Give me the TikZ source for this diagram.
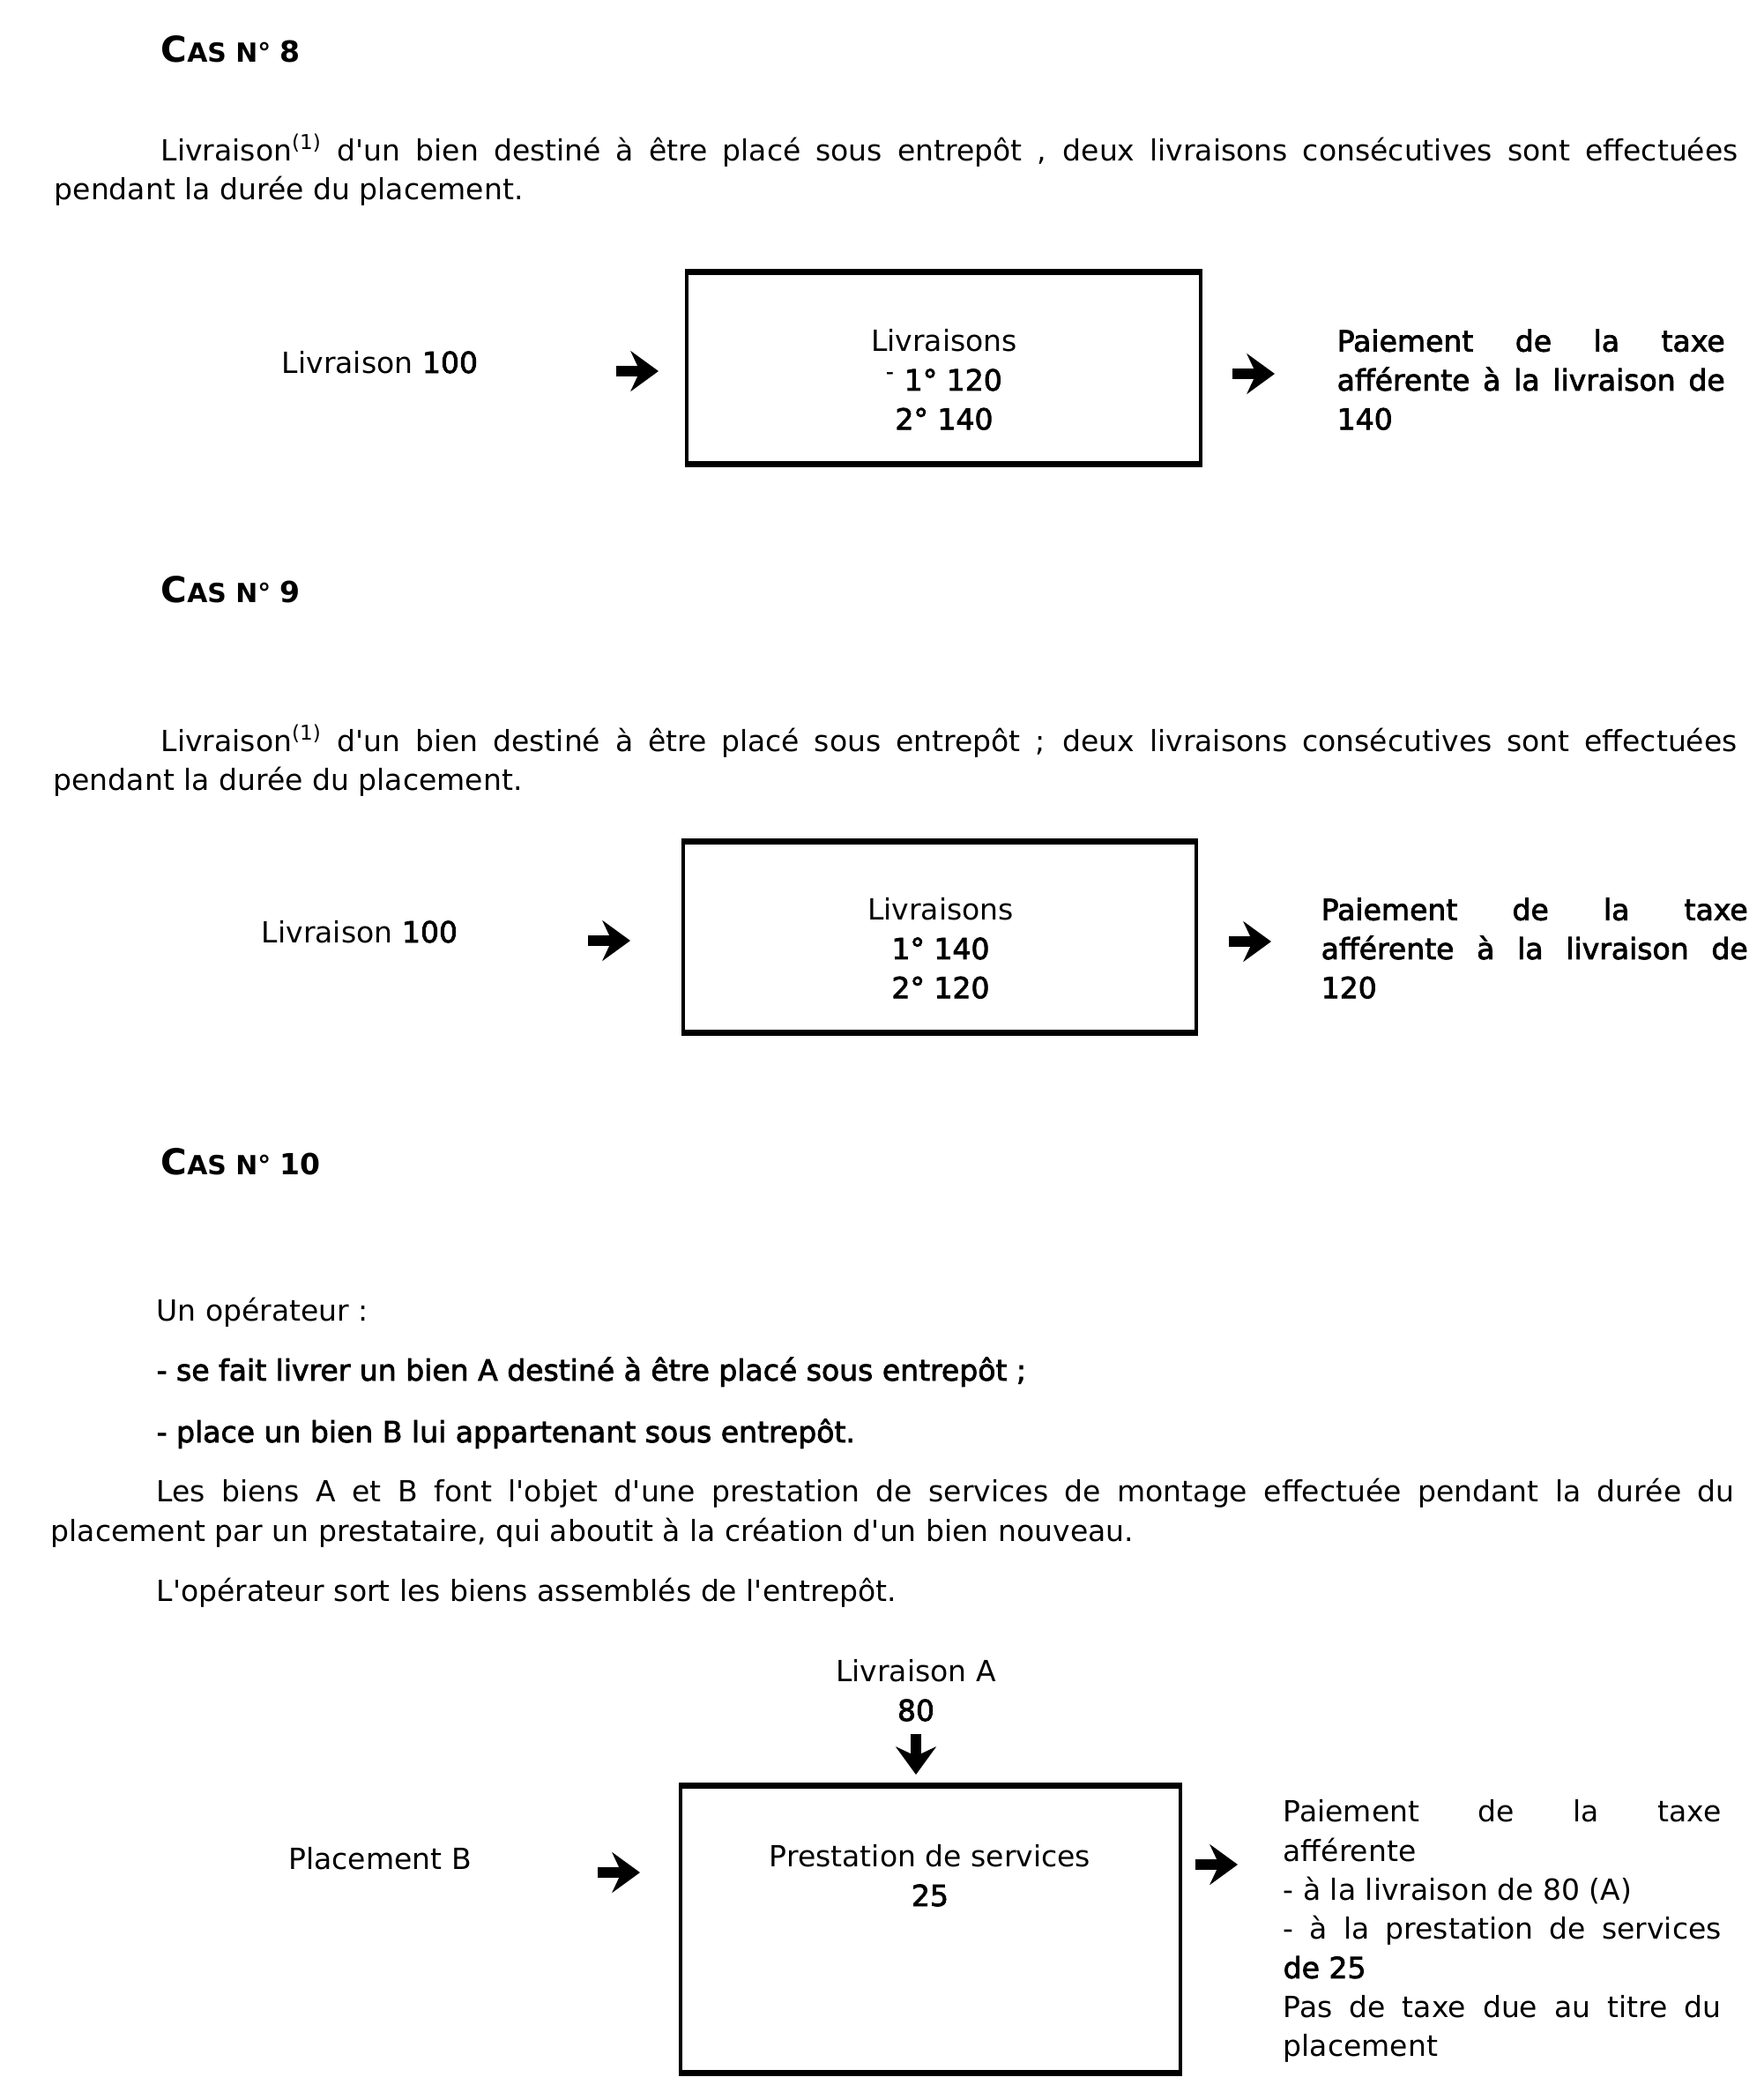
\documentclass[tikz,border=0pt]{standalone}
\usepackage{fontspec}
\setmainfont{DejaVu Sans}[Ligatures=TeXOff,BoldFont={DejaVu Sans},BoldFeatures={FakeBold=2.4}]
\newfontfamily\titrefont{DejaVu Sans}
\usetikzlibrary{arrows.meta}
\newcommand{\corps}{\fontsize{9.4pt}{12.6pt}\selectfont}
\newcommand{\cas}[1]{{\titrefont\bfseries\fontsize{11.5pt}{12pt}\selectfont C\fontsize{8.5pt}{10pt}\selectfont AS N° \fontsize{9.4pt}{12pt}\selectfont #1}}
\hyphenpenalty=10000
\exhyphenpenalty=10000
\hbadness=10000

\begin{document}
\begin{tikzpicture}[every node/.style={font=\corps,inner sep=0pt}]
  \tikzstyle{titre}=[anchor=west]
  \tikzstyle{para}=[anchor=north west,text width=19.1cm,align=justify]
  \tikzstyle{ligne}=[anchor=base west]
  \tikzstyle{etiquette}=[anchor=base]
  \tikzstyle{caisse}=[draw,line width=1.1pt]
  \tikzstyle{bord}=[line width=1.9pt]
  \tikzstyle{contenu}=[anchor=north,align=center]
  \tikzstyle{legende}=[anchor=north west,align=justify]
  \tikzstyle{fleche}=[line width=3.2pt,-{Stealth[length=9pt,width=13pt,inset=3pt]}]
  \useasboundingbox (0,0) rectangle (20,-23.73);

  % cas 8
  \node[titre] (cas8) at (1.82,-0.56) {\cas{8}};
  \node[para] (texte8) at (0.61,-1.51) {\hspace*{1.21cm}\strut Livraison\textsuperscript{(1)} d'un bien destiné à être placé sous entrepôt , deux livraisons consécutives sont effectuées\linebreak pendant la durée du placement.};
  \node[etiquette] (gauche8) at (4.31,-4.23) {Livraison \textbf{100}};
  \node[caisse,minimum width=5.83cm,minimum height=2.15cm] (boite8) at (10.705,-4.175) {};
  \node[contenu] (liv8) at (10.71,-3.67) {\strut Livraisons\\ \textbf{\textsuperscript{-} 1° 120}\\ \textbf{2° 140}};
  \node[legende,text width=4.4cm] (droite8) at (15.16,-3.67) {\strut\textbf{Paiement de la taxe\linebreak afférente à la livraison de\linebreak 140}};
  \coordinate (f8a) at (6.99,-4.21);
  \coordinate (f8b) at (7.47,-4.21);
  \coordinate (f8c) at (13.98,-4.24);
  \coordinate (f8d) at (14.46,-4.24);
  \draw[fleche] (f8a) -- (f8b);
  \draw[fleche] (f8c) -- (f8d);

  % cas 9
  \node[titre] (cas9) at (1.82,-6.69) {\cas{9}};
  \node[para] (texte9) at (0.60,-8.21) {\hspace*{1.22cm}\strut Livraison\textsuperscript{(1)} d'un bien destiné à être placé sous entrepôt ; deux livraisons consécutives sont effectuées\linebreak pendant la durée du placement.};
  \node[etiquette] (gauche9) at (4.08,-10.69) {Livraison \textbf{100}};
  \node[caisse,minimum width=5.82cm,minimum height=2.14cm] (boite9) at (10.66,-10.63) {};
  \node[contenu] (liv9) at (10.67,-10.12) {\strut Livraisons\\ \textbf{1° 140}\\ \textbf{2° 120}};
  \node[legende,text width=4.84cm] (droite9) at (14.98,-10.12) {\strut\textbf{Paiement de la taxe\linebreak afférente à la livraison de\linebreak 120}};
  \coordinate (f9a) at (6.67,-10.67);
  \coordinate (f9b) at (7.15,-10.67);
  \coordinate (f9c) at (13.94,-10.68);
  \coordinate (f9d) at (14.42,-10.68);
  \draw[fleche] (f9a) -- (f9b);
  \draw[fleche] (f9c) -- (f9d);

  % cas 10
  \node[titre] (cas10) at (1.82,-13.18) {\cas{10}};
  \node[ligne] (op) at (1.77,-14.98) {Un opérateur :};
  \node[ligne] (tiretA) at (1.77,-15.66) {\textbf{- se fait livrer un bien A destiné à être placé sous entrepôt ;}};
  \node[ligne] (tiretB) at (1.77,-16.36) {\textbf{- place un bien B lui appartenant sous entrepôt.}};
  \node[para] (texte10) at (0.57,-16.72) {\hspace*{1.2cm}\strut Les biens A et B font l'objet d'une prestation de services de montage effectuée pendant la durée du\linebreak placement par un prestataire, qui aboutit à la création d'un bien nouveau.};
  \node[ligne] (sortie) at (1.77,-18.16) {L'opérateur sort les biens assemblés de l'entrepôt.};
  \node[contenu] (livA) at (10.39,-18.76) {\strut Livraison A\\ \textbf{80}};
  \node[etiquette] (placB) at (4.31,-21.20) {Placement B};
  \node[caisse,minimum width=5.67cm,minimum height=3.23cm] (boite10) at (10.555,-21.885) {};
  \node[contenu] (presta) at (10.55,-20.86) {\strut Prestation de services\\ \textbf{25}};
  \node[legende,text width=4.97cm] (droite10) at (14.55,-20.35) {\strut Paiement de la taxe\linebreak afférente\\ - à la livraison de 80 (A)\\ - à la prestation de services\linebreak \textbf{de 25}\\ Pas de taxe due au titre du\linebreak placement};
  \coordinate (f10a) at (10.39,-19.67);
  \coordinate (f10b) at (10.39,-20.13);
  \coordinate (f10c) at (6.78,-21.24);
  \coordinate (f10d) at (7.26,-21.24);
  \coordinate (f10e) at (13.56,-21.15);
  \coordinate (f10f) at (14.04,-21.15);
  \draw[fleche] (f10a) -- (f10b);
  \draw[fleche] (f10c) -- (f10d);
  \draw[fleche] (f10e) -- (f10f);

  \foreach \b in {boite8,boite9,boite10} {
    \draw[bord] (\b.north west) -- (\b.north east);
    \draw[bord] (\b.south west) -- (\b.south east);
  }
\end{tikzpicture}
\end{document}
